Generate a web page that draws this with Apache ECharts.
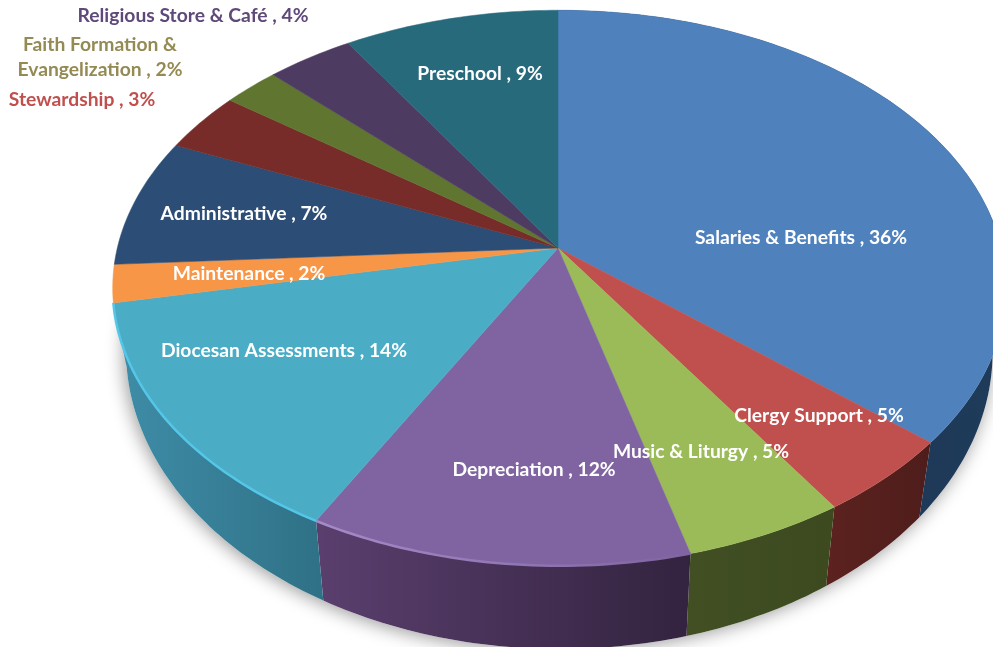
<!DOCTYPE html>
<html>
<head>
<meta charset="utf-8">
<style>
    html, body { margin: 0; padding: 0; background: #fff; }
    #main { width: 993px; height: 647px; }
</style>
<script src="https://cdn.jsdelivr.net/npm/echarts@6/dist/echarts.min.js"></script>
</head>
<body>
<div id="main"></div>
<script>
    // data
    var categories = ['Salaries & Benefits', 'Clergy Support', 'Music & Liturgy', 'Depreciation', 'Diocesan Assessments',
        'Maintenance', 'Administrative', 'Stewardship', 'Faith Formation &\nEvangelization', 'Religious Store & Café', 'Preschool'];
    // percentages as printed on the labels (they add up to 99)
    var printedPercents = [36, 5, 5, 12, 14, 2, 7, 3, 2, 4, 9];
    var values = [36.2, 4.55, 5.1, 12.1, 13.9, 2.2, 7.5, 3.5, 2.35, 3.65, 8.95];

    // styles, same order as the categories
    var topColors = ['#4F81BD', '#C0504D', '#9BBB59', '#8064A2', '#4BACC6', '#F79646', '#2C4D75', '#772C2A', '#5F7530', '#4D3B62', '#276A7C'];
    var sideLeft = ['#1C3450', '#5C221F', '#414F23', '#5A3F6E', '#3F8DA8', '#B06A2E', '#1F3B5A', '#5C221F', '#414F23', '#3A2C4A', '#1C4F5D'];
    var sideRight = ['#1F3B5A', '#4E1D1B', '#3D4A20', '#33233F', '#2F7186', '#B06A2E', '#1F3B5A', '#5C221F', '#414F23', '#3A2C4A', '#1C4F5D'];
    var rimLeft = [null, null, null, '#A68BC8', '#54C6E8', null, null, null, null, null, null];
    var rimRight = [null, null, null, '#8064A2', '#54C6E8', null, null, null, null, null, null];
    var labelColors = ['#fff', '#fff', '#fff', '#fff', '#fff', '#fff', '#fff', '#C0504D', '#948A54', '#5F497A', '#fff'];
    // label centres in px
    var labelX = [801, 819, 701, 534, 284, 249, 244, 82, 100, 193, 480];
    var labelY = [238, 416, 452, 470, 351, 274, 214, 100, 57, 16, 74];

    // tilted disc, projected so the centre of the pie lands above the middle of the ellipse
    var apexX = 558, apexY = 248, radiusX = 442, radiusY = 272, perspY = -0.144, perspX = -0.003;
    var thick = 61, bottomScale = 0.97;

    var total = values.reduce(function (a, b) { return a + b; }, 0);

    function project(deg) {
        var rad = deg * Math.PI / 180;
        var sx = Math.sin(rad), sy = -Math.cos(rad);
        var w = 1 + perspY * sy + perspX * sx;
        return { u: radiusX * sx / w, v: radiusY * sy / w, w: w };
    }
    function topPoint(deg) {
        var p = project(deg);
        return [apexX + p.u, apexY + p.v];
    }
    function bottomPoint(deg) {
        var p = project(deg);
        return [apexX + p.u * bottomScale, apexY + p.v + thick / (p.w * p.w)];
    }
    function arc(fromDeg, toDeg, fn) {
        var pts = [];
        var n = Math.max(2, Math.ceil(toDeg - fromDeg));
        for (var i = 0; i <= n; i++) {
            pts.push(fn(fromDeg + (toDeg - fromDeg) * i / n));
        }
        return pts;
    }
    function sliceAngles(index) {
        var before = 0;
        for (var i = 0; i < index; i++) before += values[i];
        return [before / total * 360, (before + values[index]) / total * 360];
    }

    var option = {
        animation: false,
        backgroundColor: '#fff',
        series: [
            {
                // soft shadow under the disc
                type: 'custom',
                coordinateSystem: 'none',
                silent: true,
                data: [total],
                renderItem: function () {
                    return {
                        type: 'polygon',
                        shape: { points: arc(0, 360, bottomPoint) },
                        style: { fill: '#fff', shadowBlur: 18, shadowColor: 'rgba(0,0,0,0.4)', shadowOffsetX: -2, shadowOffsetY: 2 }
                    };
                }
            },
            {
                // sides, the ones at the back can't be seen
                type: 'custom',
                coordinateSystem: 'none',
                silent: true,
                data: values,
                renderItem: function (params) {
                    var i = params.dataIndex;
                    var a = sliceAngles(i);
                    if (a[0] > 255) return null;
                    var pts = arc(a[0], a[1], topPoint).concat(arc(a[0], a[1], bottomPoint).reverse());
                    return {
                        type: 'polygon',
                        shape: { points: pts },
                        style: {
                            fill: { type: 'linear', x: 0, y: 0, x2: 1, y2: 0, colorStops: [
                                { offset: 0, color: sideLeft[i] },
                                { offset: 1, color: sideRight[i] }
                            ] }
                        }
                    };
                }
            },
            {
                // top faces
                type: 'custom',
                coordinateSystem: 'none',
                silent: true,
                data: values,
                renderItem: function (params) {
                    var i = params.dataIndex;
                    var a = sliceAngles(i);
                    var children = [{
                        type: 'polygon',
                        shape: { points: [[apexX, apexY]].concat(arc(a[0], a[1], topPoint)) },
                        style: { fill: topColors[i], stroke: topColors[i], lineWidth: 0.5 }
                    }];
                    if (rimLeft[i]) {
                        children.push({
                            type: 'polyline',
                            shape: { points: arc(a[0], a[1], topPoint) },
                            style: {
                                fill: null,
                                lineWidth: 2.5,
                                stroke: { type: 'linear', x: 0, y: 0, x2: 1, y2: 0, colorStops: [
                                    { offset: 0, color: rimLeft[i] },
                                    { offset: 1, color: rimRight[i] }
                                ] }
                            }
                        });
                    }
                    return { type: 'group', children: children };
                }
            },
            {
                // labels
                type: 'custom',
                coordinateSystem: 'none',
                silent: true,
                z: 5,
                data: printedPercents,
                renderItem: function (params) {
                    var i = params.dataIndex;
                    return {
                        type: 'text',
                        x: labelX[i],
                        y: labelY[i],
                        style: {
                            text: categories[i] + ' , ' + printedPercents[i] + '%',
                            fill: labelColors[i],
                            font: 'bold 19.3px Lato, "Open Sans", sans-serif',
                            align: 'center',
                            verticalAlign: 'middle',
                            lineHeight: 25
                        }
                    };
                }
            }
        ]
    };

    var myChart = echarts.init(document.getElementById('main'));
    myChart.setOption(option);
</script>
</body>
</html>
